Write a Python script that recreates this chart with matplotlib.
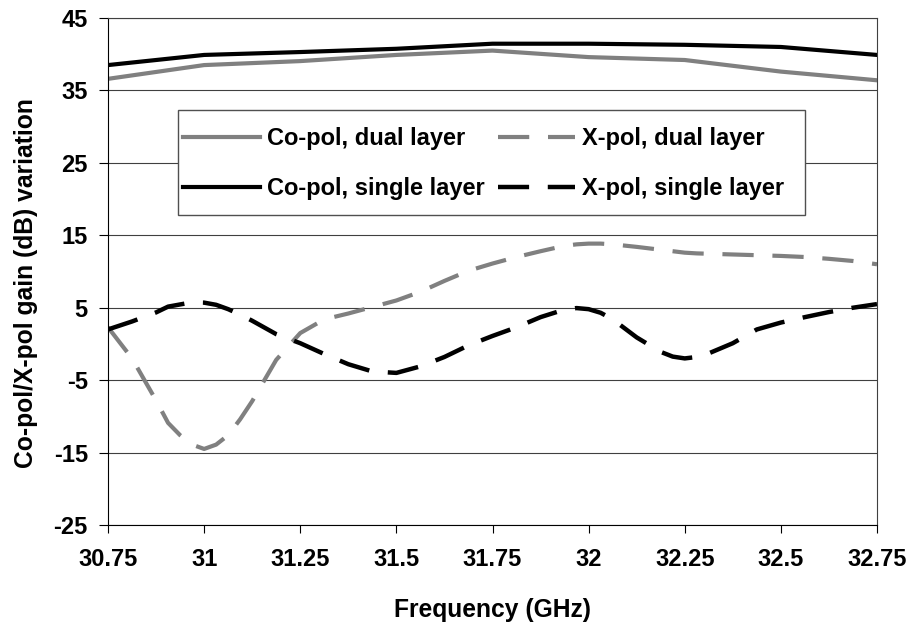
import numpy as np
import matplotlib.pyplot as plt
from matplotlib.patches import Rectangle

plt.rcParams['font.family'] = ['Liberation Sans', 'DejaVu Sans']
plt.rcParams['font.weight'] = 'bold'
plt.rcParams['axes.unicode_minus'] = False

# Co-pol gain, sampled every 0.25 GHz
freq_co = [30.75, 31.0, 31.25, 31.5, 31.75, 32.0, 32.25, 32.5, 32.75]
co_dual = [36.6, 38.5, 39.05, 39.9, 40.5, 39.6, 39.2, 37.6, 36.4]
co_single = [38.5, 39.9, 40.3, 40.75, 41.45, 41.45, 41.3, 41.0, 39.9]

# X-pol gain (finer steps around the dips and peaks)
freq_x = [30.75, 30.8125, 30.875, 30.90625, 30.9375, 30.96875, 31.0, 31.03125,
          31.0625, 31.09375, 31.125, 31.1875, 31.25, 31.3125, 31.375, 31.4375,
          31.5, 31.5625, 31.625, 31.6875, 31.75, 31.8125, 31.875, 31.9375,
          31.96875, 32.0, 32.03125, 32.0625, 32.125, 32.1875, 32.21875, 32.25,
          32.28125, 32.3125, 32.375, 32.4375, 32.5, 32.5625, 32.625, 32.6875, 32.75]
x_dual = [2.3, -2.0, -7.8, -10.9, -12.6, -13.9, -14.5, -13.9,
          -12.6, -10.4, -7.9, -2.2, 1.5, 3.4, 4.2, 5.1,
          6.0, 7.2, 8.7, 10.1, 11.1, 12.0, 12.8, 13.55,
          13.75, 13.85, 13.85, 13.75, 13.4, 13.0, 12.8, 12.6,
          12.5, 12.45, 12.35, 12.25, 12.15, 12.0, 11.75, 11.45, 11.0]
x_single = [2.0, 3.1, 4.35, 5.15, 5.45, 5.75, 5.7, 5.4,
            4.8, 4.05, 3.2, 1.35, 0.1, -1.4, -2.8, -3.8,
            -4.0, -3.1, -1.8, -0.2, 1.1, 2.3, 3.7, 4.75,
            4.95, 4.8, 4.3, 3.4, 0.9, -1.1, -1.75, -2.0,
            -1.8, -1.3, 0.1, 2.0, 2.95, 3.7, 4.4, 5.0, 5.5]

x_ticks = [30.75, 31, 31.25, 31.5, 31.75, 32, 32.25, 32.5, 32.75]
x_ticklabels = ['30.75', '31', '31.25', '31.5', '31.75', '32', '32.25', '32.5', '32.75']
y_ticks = [-25, -15, -5, 5, 15, 25, 35, 45]

gray = '#808080'

fig = plt.figure(figsize=(9.06, 6.23), dpi=100)
ax = fig.add_axes([108 / 906, 1 - 525 / 623, 769 / 906, 507 / 623])

l1, = ax.plot(freq_co, co_dual, color=gray, lw=3.0, solid_joinstyle='round',
              label='Co-pol, dual layer')
l2, = ax.plot(freq_co, co_single, color='black', lw=3.0, solid_joinstyle='round',
              label='Co-pol, single layer')
l3, = ax.plot(freq_x, x_dual, color=gray, lw=3.0, dashes=(7.5, 4.5),
              label='X-pol, dual layer')
l4, = ax.plot(freq_x, x_single, color='black', lw=3.2, dashes=(7.0, 4.2),
              label='X-pol, single layer')

ax.set_xlim(30.75, 32.75)
ax.set_ylim(-25, 45)
ax.set_xticks(x_ticks)
ax.set_xticklabels(x_ticklabels)
ax.set_yticks(y_ticks)
ax.yaxis.grid(True, color='#404040', lw=0.8)
ax.set_axisbelow(True)

ax.tick_params(axis='y', direction='out', length=6.5, width=0.8, pad=8,
               labelsize=17, colors='black')
ax.tick_params(axis='x', direction='out', length=5.5, width=0.8, pad=11,
               labelsize=17, colors='black')
for lab in ax.get_xticklabels() + ax.get_yticklabels():
    lab.set_fontweight('bold')

for side in ['top', 'right']:
    ax.spines[side].set_color('#404040')
for side in ['left', 'bottom']:
    ax.spines[side].set_color('black')
for s in ax.spines.values():
    s.set_linewidth(0.8)

ax.set_xlabel('Frequency (GHz)', fontsize=17.7, fontweight='bold')
ax.xaxis.set_label_coords(0.5, -0.143)
ax.set_ylabel('Co-pol/X-pol gain (dB) variation', fontsize=17.7, fontweight='bold')
ax.yaxis.set_label_coords(-0.091, 0.477)

# legend box drawn separately so the side padding stays narrow
ax.add_patch(Rectangle((0.091, 0.6114), 0.8153, 0.2071, transform=ax.transAxes,
                       facecolor='white', edgecolor='#505050', lw=1.0, zorder=4))
leg = ax.legend(handles=[l1, l2, l3, l4], ncol=2, loc='upper left',
                bbox_to_anchor=(0.0975, 0.785), borderaxespad=0, borderpad=0,
                prop={'size': 17, 'weight': 'bold'}, frameon=False,
                handlelength=3.26, handletextpad=0.3, columnspacing=0.55,
                labelspacing=1.15)
leg.set_zorder(5)

fig.savefig('out.png', dpi=100)
